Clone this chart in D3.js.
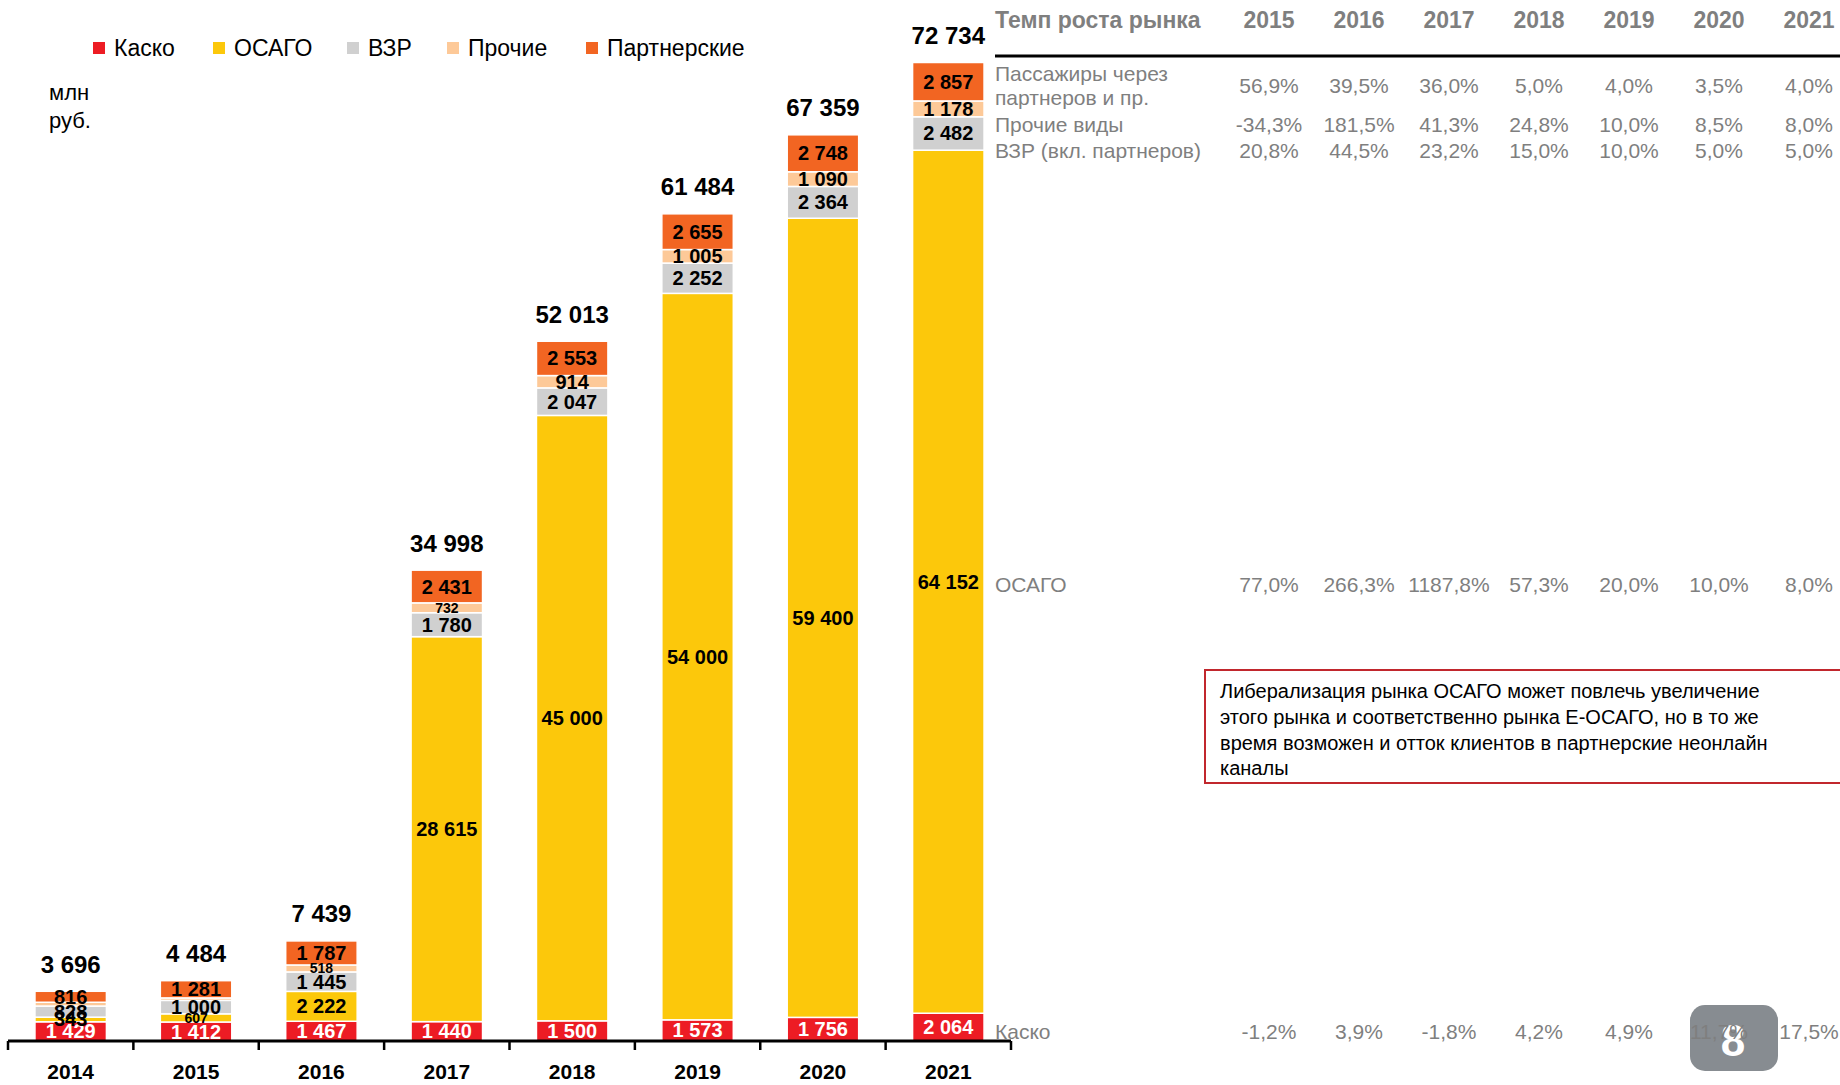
<!DOCTYPE html>
<html>
<head>
<meta charset="utf-8">
<script src="https://cdn.jsdelivr.net/npm/d3@7"></script>
<style>
  html, body { margin: 0; padding: 0; background: #fff; }
  svg { display: block; font-family: "Liberation Sans", Arial, sans-serif; }
</style>
</head>
<body>
<svg id="chart" width="1840" height="1085"></svg>
<script>
// Market volume, mln rub
const years = ['2014', '2015', '2016', '2017', '2018', '2019', '2020', '2021'];
const kasko = [1429, 1412, 1467, 1440, 1500, 1573, 1756, 2064];
const osago = [343, 607, 2222, 28615, 45000, 54000, 59400, 64152];
const vzr = [828, 1000, 1445, 1780, 2047, 2252, 2364, 2482];
const prochie = [280, 184, 518, 732, 914, 1005, 1090, 1178];
const partner = [816, 1281, 1787, 2431, 2553, 2655, 2748, 2857];
const totals = [3696, 4484, 7439, 34998, 52013, 61484, 67359, 72734];

const seriesNames = ['Каско', 'ОСАГО', 'ВЗР', 'Прочие', 'Партнерские'];

// Growth table
const growthTitle = 'Темп роста рынка';
const growthYears = ['2015', '2016', '2017', '2018', '2019', '2020', '2021'];
const growthLabels = [['Пассажиры через', 'партнеров и пр.'], ['Прочие виды'], ['ВЗР (вкл. партнеров)'], ['ОСАГО'], ['Каско']];
const growthPassengers = [56.9, 39.5, 36.0, 5.0, 4.0, 3.5, 4.0];
const growthOther = [-34.3, 181.5, 41.3, 24.8, 10.0, 8.5, 8.0];
const growthVzr = [20.8, 44.5, 23.2, 15.0, 10.0, 5.0, 5.0];
const growthOsago = [77.0, 266.3, 1187.8, 57.3, 20.0, 10.0, 8.0];
const growthKasko = [-1.2, 3.9, -1.8, 4.2, 4.9, 11.7, 17.5];

const noteLines = [
  'Либерализация рынка ОСАГО может повлечь увеличение',
  'этого рынка и соответственно рынка Е-ОСАГО, но в то же',
  'время возможен и отток клиентов в партнерские неонлайн',
  'каналы'
];
const unitLines = ['млн', 'руб.'];
const pageNumber = '8';

const colors = ['#ED1C24', '#FCC80B', '#D0D0D0', '#FDC998', '#F26522'];

const svg = d3.select('#chart');

const x = d3.scaleBand().domain(years).range([8, 1011]).paddingInner(0.43).paddingOuter(0.215);
const y = d3.scaleLinear().domain([0, 75000]).range([1041, 32]);

const table = years.map((yr, i) => ({
  year: yr, s0: kasko[i], s1: osago[i], s2: vzr[i], s3: prochie[i], s4: partner[i]
}));
const stack = d3.stack().keys(['s0', 's1', 's2', 's3', 's4']);
const layers = stack(table);

const fmt = v => d3.format(',')(v).replace(/,/g, ' ');
const pct = v => d3.format('.1f')(v).replace('.', ',').replace('\u2212', '-') + '%';

// Bars
const layerG = svg.append('g').selectAll('g')
  .data(layers)
  .join('g')
  .attr('fill', (d, i) => colors[i]);

layerG.selectAll('rect')
  .data(d => d)
  .join('rect')
  .attr('x', d => x(d.data.year))
  .attr('y', d => y(d[1]))
  .attr('width', x.bandwidth())
  .attr('height', d => y(d[0]) - y(d[1]))
  .attr('stroke', '#fff')
  .attr('stroke-width', 1.5);

// Segment labels
layers.forEach((layer, li) => {
  svg.append('g').selectAll('text')
    .data(layer.filter(d => d[1] - d[0] >= 300))
    .join('text')
    .attr('x', d => x(d.data.year) + x.bandwidth() / 2)
    .attr('y', d => y((d[0] + d[1]) / 2))
    .attr('text-anchor', 'middle')
    .attr('dominant-baseline', 'central')
    .attr('font-weight', 'bold')
    .attr('font-size', d => {
      const h = y(d[0]) - y(d[1]);
      return (h > 6 && h < 10.5) ? 14 : 20;
    })
    .attr('fill', li === 0 ? '#fff' : '#000')
    .text(d => fmt(d[1] - d[0]));
});

// Totals
svg.append('g').selectAll('text')
  .data(years)
  .join('text')
  .attr('x', d => x(d) + x.bandwidth() / 2)
  .attr('y', (d, i) => y(totals[i]) - 27)
  .attr('text-anchor', 'middle')
  .attr('dominant-baseline', 'central')
  .attr('font-weight', 'bold')
  .attr('font-size', 24)
  .attr('fill', '#000')
  .text((d, i) => fmt(totals[i]));

// X axis with ticks between categories
const axisG = svg.append('g');
const [x0, x1] = x.range();
axisG.append('line')
  .attr('x1', x0).attr('x2', x1)
  .attr('y1', y(0)).attr('y2', y(0))
  .attr('stroke', '#000').attr('stroke-width', 3);
axisG.selectAll('line.tick')
  .data(d3.range(years.length + 1))
  .join('line')
  .attr('class', 'tick')
  .attr('x1', i => x0 + i * x.step()).attr('x2', i => x0 + i * x.step())
  .attr('y1', y(0)).attr('y2', y(0) + 9)
  .attr('stroke', '#000').attr('stroke-width', 2.5);
axisG.selectAll('text')
  .data(years)
  .join('text')
  .attr('x', d => x(d) + x.bandwidth() / 2)
  .attr('y', 1071)
  .attr('text-anchor', 'middle')
  .attr('dominant-baseline', 'central')
  .attr('font-weight', 'bold')
  .attr('font-size', 21)
  .text(d => d);

// Legend
const legendX = [93, 213, 347, 447, 586];
const legend = svg.append('g').selectAll('g')
  .data(seriesNames)
  .join('g')
  .attr('transform', (d, i) => `translate(${legendX[i]},48)`);
legend.append('rect')
  .attr('x', 0).attr('y', -6).attr('width', 12).attr('height', 12)
  .attr('fill', (d, i) => colors[i]);
legend.append('text')
  .attr('x', 21).attr('y', 0)
  .attr('dominant-baseline', 'central')
  .attr('font-size', 23)
  .text(d => d);

// Unit
svg.append('g').selectAll('text')
  .data(unitLines)
  .join('text')
  .attr('x', 49)
  .attr('y', (d, i) => 92 + i * 28)
  .attr('dominant-baseline', 'central')
  .attr('font-size', 22)
  .text(d => d);

// Page badge (under the table text)
svg.append('rect')
  .attr('x', 1690).attr('y', 1005).attr('width', 88).attr('height', 66)
  .attr('rx', 15).attr('fill', '#878C91');
svg.append('text')
  .attr('x', 1733).attr('y', 1040)
  .attr('text-anchor', 'middle')
  .attr('dominant-baseline', 'central')
  .attr('font-weight', 'bold')
  .attr('font-size', 44)
  .attr('fill', '#fff')
  .text(pageNumber);

// Growth table
const grey = '#7F7F7F';
const col = d3.scalePoint().domain(growthYears).range([1269, 1809]);
const tbl = svg.append('g');

tbl.append('text')
  .attr('x', 995).attr('y', 20)
  .attr('dominant-baseline', 'central')
  .attr('font-weight', 'bold').attr('font-size', 23)
  .attr('fill', grey)
  .text(growthTitle);
tbl.selectAll('text.hdr')
  .data(growthYears)
  .join('text')
  .attr('class', 'hdr')
  .attr('x', d => col(d)).attr('y', 20)
  .attr('text-anchor', 'middle')
  .attr('dominant-baseline', 'central')
  .attr('font-weight', 'bold').attr('font-size', 23)
  .attr('fill', grey)
  .text(d => d);
tbl.append('line')
  .attr('x1', 995).attr('x2', 1840)
  .attr('y1', 56).attr('y2', 56)
  .attr('stroke', '#000').attr('stroke-width', 3);

const rowY = [85, 124, 150, 584, 1031];
const rowValues = [growthPassengers, growthOther, growthVzr, growthOsago, growthKasko];

growthLabels.forEach((lines, r) => {
  tbl.append('g').selectAll('text')
    .data(lines)
    .join('text')
    .attr('x', 995)
    .attr('y', (d, i) => rowY[r] + (i - (lines.length - 1) / 2) * 24)
    .attr('dominant-baseline', 'central')
    .attr('font-size', 21)
    .attr('fill', grey)
    .text(d => d);
  tbl.append('g').selectAll('text')
    .data(rowValues[r])
    .join('text')
    .attr('x', (d, i) => col(growthYears[i]))
    .attr('y', rowY[r])
    .attr('text-anchor', 'middle')
    .attr('dominant-baseline', 'central')
    .attr('font-size', 21)
    .attr('fill', grey)
    .text(d => pct(d));
});

// Note box
const note = svg.append('g');
note.append('rect')
  .attr('x', 1205).attr('y', 670).attr('width', 660).attr('height', 113)
  .attr('fill', '#fff')
  .attr('stroke', '#C1272D').attr('stroke-width', 2);
note.selectAll('text')
  .data(noteLines)
  .join('text')
  .attr('x', 1220)
  .attr('y', (d, i) => 691 + i * 25.8)
  .attr('dominant-baseline', 'central')
  .attr('font-size', 20)
  .attr('fill', '#000')
  .text(d => d);
</script>
</body>
</html>
